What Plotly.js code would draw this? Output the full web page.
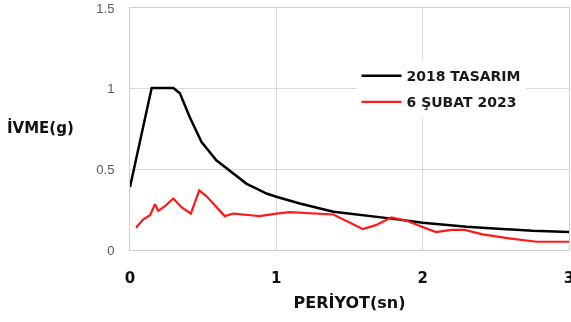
<!DOCTYPE html>
<html>
<head>
<meta charset="utf-8">
<script src="https://cdn.plot.ly/plotly-3.0.1.min.js"></script>
<style>html,body{margin:0;padding:0;background:#fff;overflow:hidden}#chart{width:571px;height:322px;will-change:transform;transform:translateZ(0)}</style>
</head>
<body>
<div id="chart"></div>
<script>
// 2018 TASARIM (design spectrum)
const designT = [0, 0.148, 0.296, 0.341, 0.41, 0.489, 0.59, 0.705, 0.797, 0.933, 1.0, 1.16, 1.39, 1.775, 2.0, 2.3, 2.75, 3.0];
const designA = [0.39, 1.004, 1.004, 0.971, 0.82, 0.669, 0.556, 0.473, 0.41, 0.35, 0.33, 0.288, 0.237, 0.196, 0.169, 0.144, 0.119, 0.111];
// 6 ŞUBAT 2023 (recorded)
const quakeT = [0.041, 0.091, 0.137, 0.155, 0.171, 0.193, 0.239, 0.296, 0.353, 0.416, 0.473, 0.523, 0.648, 0.705, 0.887, 1.0, 1.09, 1.39, 1.59, 1.68, 1.786, 1.89, 2.0, 2.09, 2.196, 2.287, 2.41, 2.59, 2.78, 3.0];
const quakeA = [0.138, 0.19, 0.216, 0.247, 0.284, 0.243, 0.272, 0.319, 0.264, 0.226, 0.37, 0.333, 0.21, 0.226, 0.21, 0.226, 0.235, 0.22, 0.13, 0.154, 0.202, 0.181, 0.14, 0.111, 0.125, 0.125, 0.097, 0.072, 0.051, 0.051];
const seriesNames = ["2018 TASARIM", "6 ŞUBAT 2023"];
const xTickStep = 1;
const yTickStep = 0.5;

const traces = [
  {x: designT, y: designA, name: seriesNames[0], type: "scatter", mode: "lines",
   line: {color: "#000000", width: 2.5}, legendgroup: "a"},
  {x: quakeT, y: quakeA, name: seriesNames[1], type: "scatter", mode: "lines",
   line: {color: "#ff1a1a", width: 2.2}, legendgroup: "b"}
];

const layout = {
  width: 571, height: 322,
  margin: {l: 130, r: 2, t: 8, b: 72},
  paper_bgcolor: "#fff", plot_bgcolor: "#fff",
  showlegend: true,
  legend: {
    x: 0.516, y: 0.785, xanchor: "left", yanchor: "top",
    bgcolor: "#ffffff", borderwidth: 0,
    font: {family: "DejaVu Sans", size: 14, color: "#1a1a1a", weight: "bold"},
    itemwidth: 40, traceorder: "grouped", tracegroupgap: 5
  },
  xaxis: {
    range: [0, 3], tickmode: "linear", tick0: 0, dtick: xTickStep,
    showgrid: true, gridcolor: "#d9d9d9", gridwidth: 1,
    showline: true, linecolor: "#d0d0d0", linewidth: 1, mirror: true,
    zeroline: false, ticks: "outside", ticklen: 14, tickcolor: "rgba(0,0,0,0)",
    ticklabeloverflow: "allow",
    tickfont: {family: "DejaVu Sans", size: 15, color: "#111", weight: "bold"},
    title: {text: "PERİYOT(sn)", standoff: 10,
      font: {family: "DejaVu Sans", size: 16, color: "#111", weight: "bold"}}
  },
  yaxis: {
    range: [0, 1.5], tickmode: "linear", tick0: 0, dtick: yTickStep,
    showgrid: true, gridcolor: "#d9d9d9", gridwidth: 1,
    showline: true, linecolor: "#d0d0d0", linewidth: 1, mirror: true,
    zeroline: false, ticks: "outside", ticklen: 12, tickcolor: "rgba(0,0,0,0)",
    tickfont: {family: "Liberation Sans", size: 13, color: "#595959"}
  },
  annotations: [{
    text: "İVME(g)", xref: "paper", yref: "paper",
    x: -0.285, y: 0.508, xanchor: "left", yanchor: "middle", showarrow: false,
    font: {family: "DejaVu Sans", size: 15, color: "#111", weight: "bold"}
  }]
};

Plotly.newPlot("chart", traces, layout, {displayModeBar: false, staticPlot: true});
</script>
</body>
</html>
